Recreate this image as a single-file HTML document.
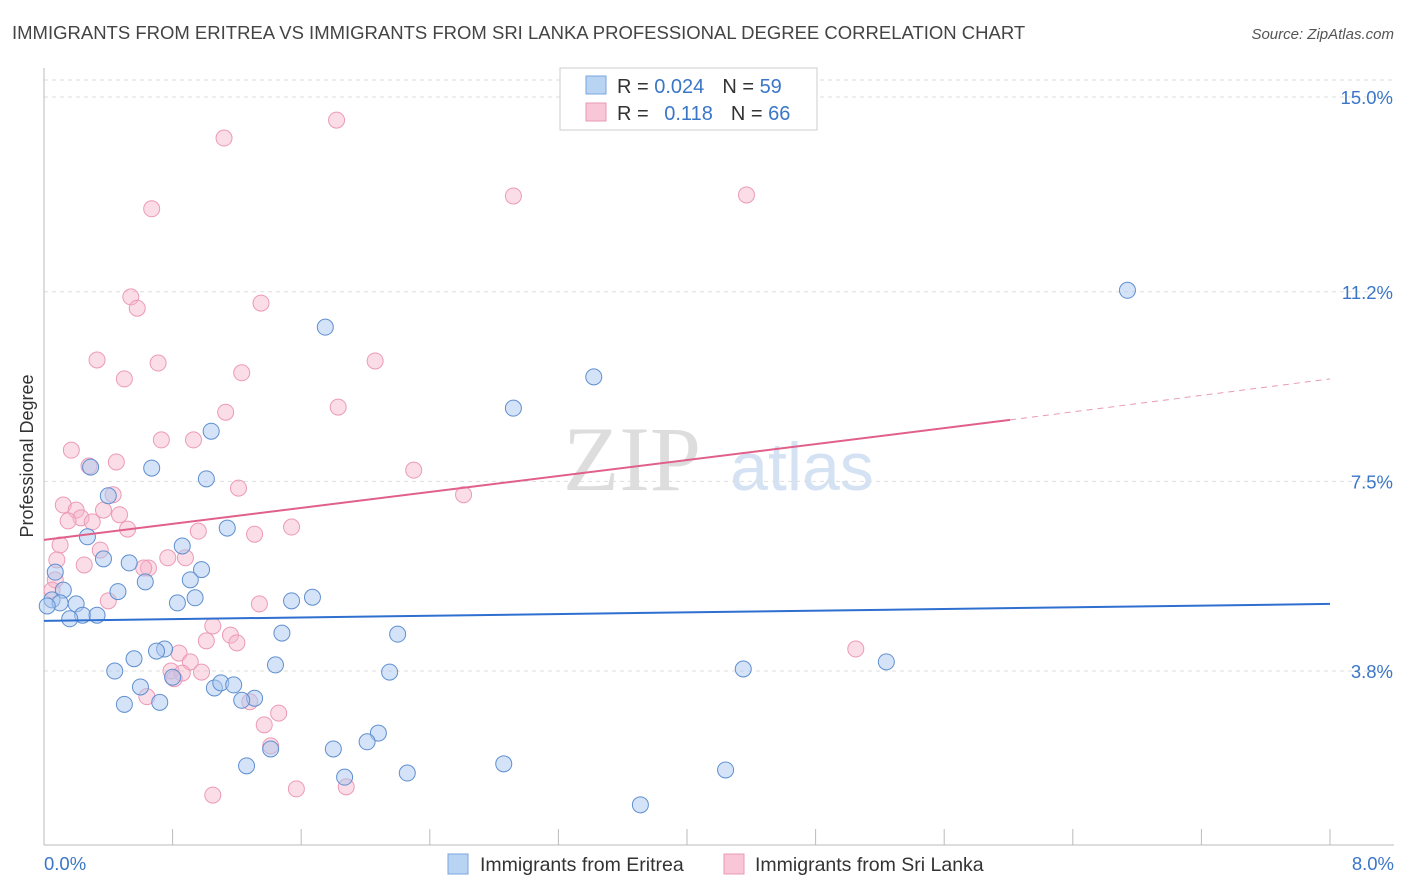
<!DOCTYPE html>
<html><head><meta charset="utf-8">
<style>
body{margin:0;background:#fff;font-family:"Liberation Sans",sans-serif;}
svg{display:block}
</style></head>
<body>
<svg id="chart" width="1406" height="892">
<text x="12" y="39" font-size="18.5" fill="#444">IMMIGRANTS FROM ERITREA VS IMMIGRANTS FROM SRI LANKA PROFESSIONAL DEGREE CORRELATION CHART</text>
<text x="1394" y="39" font-size="15" fill="#555" font-style="italic" text-anchor="end">Source: ZipAtlas.com</text>
<text x="0" y="0" transform="translate(33,456) rotate(-90)" font-size="18" fill="#333" text-anchor="middle">Professional Degree</text>
<text x="632" y="490" font-size="92" fill="#ddd" font-family="Liberation Serif,serif" text-anchor="middle">ZIP</text>
<text x="802" y="490" font-size="68" fill="#d4e2f3" text-anchor="middle">atlas</text>
<g id="grid"></g><g id="axes"></g><g id="pts"></g><g id="trend"></g>
<g>
<rect x="560" y="68" width="257" height="62" fill="#fff" stroke="#ccc"/>
<rect x="586" y="76" width="20" height="18" fill="#b9d3f3" stroke="#7aa6dd"/>
<rect x="586" y="103" width="20" height="18" fill="#f8c6d6" stroke="#e99ab4"/>
<text x="617" y="93" font-size="20" fill="#333">R = <tspan fill="#3a76c8">0.024</tspan><tspan dx="18">N = </tspan><tspan fill="#3a76c8">59</tspan></text>
<text x="617" y="120" font-size="20" fill="#333">R = <tspan dx="10" fill="#3a76c8">0.118</tspan><tspan dx="18">N = </tspan><tspan fill="#3a76c8">66</tspan></text>
</g>
<g>
<rect x="448" y="854" width="20" height="20" fill="#b9d3f3" stroke="#7aa6dd"/>
<text x="480" y="871" font-size="19.5" fill="#333">Immigrants from Eritrea</text>
<rect x="724" y="854" width="20" height="20" fill="#f8c6d6" stroke="#e99ab4"/>
<text x="755" y="871" font-size="19.5" fill="#333">Immigrants from Sri Lanka</text>
</g>
</svg>
<script>
const yTicks=[15.0,11.2,7.5,3.8];
const yTickLabels=["15.0%","11.2%","7.5%","3.8%"];
const xTickLabels=["0.0%","8.0%"];
const blueX=[6.74,1.75,3.42,2.92,1.04,0.67,0.29,1.01,0.40,1.14,0.27,0.86,0.37,0.53,0.98,0.91,0.63,0.46,0.12,0.07,0.05,0.10,0.20,0.02,0.83,0.94,1.54,1.67,0.24,0.16,0.33,1.48,2.20,0.75,0.70,0.56,1.44,2.15,0.44,4.35,5.24,0.80,0.60,1.06,1.10,1.18,1.31,1.23,0.72,0.50,2.08,2.01,1.80,1.41,1.26,2.86,4.24,2.26,1.87,3.71];
const blueY=[11.23,10.51,9.54,8.93,8.48,7.76,7.78,7.55,7.22,6.59,6.42,6.24,5.99,5.91,5.78,5.58,5.54,5.35,5.38,5.73,5.19,5.13,5.11,5.07,5.13,5.23,5.17,5.24,4.89,4.82,4.89,4.54,4.52,4.23,4.19,4.04,3.92,3.78,3.80,3.84,3.98,3.68,3.49,3.47,3.57,3.53,3.27,3.23,3.19,3.15,2.59,2.42,2.28,2.28,1.95,1.99,1.87,1.81,1.73,1.19];
const pinkX=[1.82,1.12,0.67,2.92,4.37,0.54,0.58,1.35,0.33,0.71,2.06,0.50,1.23,1.83,1.13,0.73,0.93,0.17,0.28,0.45,2.30,1.21,0.43,2.61,0.12,0.20,0.37,0.23,0.47,0.30,0.15,0.52,0.96,1.54,1.31,0.10,0.35,0.08,0.77,0.88,0.25,0.65,0.62,0.07,0.05,1.34,0.40,1.05,1.16,1.01,1.20,0.84,0.91,0.79,0.98,0.86,0.81,0.64,1.28,1.46,1.37,1.41,1.88,1.57,1.05,5.05];
const pinkY=[14.55,14.20,12.82,13.07,13.09,11.10,10.88,10.98,9.87,9.81,9.85,9.50,9.62,8.95,8.85,8.31,8.31,8.11,7.80,7.88,7.72,7.37,7.24,7.24,7.04,6.94,6.94,6.79,6.85,6.71,6.73,6.57,6.53,6.61,6.47,6.26,6.16,5.97,6.01,6.01,5.87,5.81,5.81,5.58,5.38,5.11,5.17,4.68,4.50,4.39,4.35,4.15,3.98,3.80,3.78,3.76,3.65,3.30,3.20,2.98,2.75,2.34,1.54,1.50,1.38,4.23];
const blueTrend=[[0,4.78],[8,5.11]];
const pinkTrend=[[0,6.36],[6.01,8.70],[8,9.50]];
const NS="http://www.w3.org/2000/svg";
const X=v=>44+v*160.75, Y=v=>865.8-v*51.25;
function mk(t,a,p){const e=document.createElementNS(NS,t);for(const k in a)e.setAttribute(k,a[k]);p.appendChild(e);return e;}
const grid=document.getElementById('grid'),axes=document.getElementById('axes'),pts=document.getElementById('pts'),tr=document.getElementById('trend');
const topLine=mk('line',{x1:44,x2:1394,y1:80,y2:80,stroke:'#ddd','stroke-dasharray':'4,4'},grid);


yTicks.forEach((v,i)=>{
 const g=mk('line',{x1:44,x2:1394,y1:Y(v),y2:Y(v),stroke:'#ddd','stroke-dasharray':'4,4'},grid);
 
 
 const t=mk('text',{x:1393,y:Y(v)+7,'font-size':18.5,fill:'#3a76c8','text-anchor':'end'},grid);
 t.textContent=yTickLabels[i];
 
 
});
const ax=mk('line',{x1:44,x2:1394,y1:845,y2:845,stroke:'#bbb'},axes);


const ay=mk('line',{x1:44,x2:44,y1:68,y2:845,stroke:'#bbb'},axes);


for(let i=0;i<=10;i++){const t=mk('line',{x1:X(i*0.8),x2:X(i*0.8),y1:829,y2:845,stroke:'#bbb'},axes);
 
 }
[[0,'start',44],[1,'end',1394]].forEach(([i,a,x])=>{const t=mk('text',{x:x,y:870,'font-size':18.5,fill:'#3a76c8','text-anchor':a},axes);t.textContent=xTickLabels[i];
 
 });
pinkX.forEach((v,i)=>{const c=mk('circle',{cx:X(v),cy:Y(pinkY[i]),r:8,fill:'rgba(246,180,202,0.45)',stroke:'#ec9ab6','stroke-width':1},pts);
 
 });
blueX.forEach((v,i)=>{const c=mk('circle',{cx:X(v),cy:Y(blueY[i]),r:8,fill:'rgba(170,200,240,0.5)',stroke:'#5f8fd0','stroke-width':1},pts);
 
 });
const bl=mk('line',{x1:X(blueTrend[0][0]),y1:Y(blueTrend[0][1]),x2:X(blueTrend[1][0]),y2:Y(blueTrend[1][1]),stroke:'#2f6fd0','stroke-width':2},tr);


const pl=mk('line',{x1:X(pinkTrend[0][0]),y1:Y(pinkTrend[0][1]),x2:X(pinkTrend[1][0]),y2:Y(pinkTrend[1][1]),stroke:'#e0608a','stroke-width':2},tr);


const pd=mk('line',{x1:X(pinkTrend[1][0]),y1:Y(pinkTrend[1][1]),x2:X(pinkTrend[2][0]),y2:Y(pinkTrend[2][1]),stroke:'#e99ab4','stroke-width':1,'stroke-dasharray':'6,5'},tr);


</script>
</body></html>
